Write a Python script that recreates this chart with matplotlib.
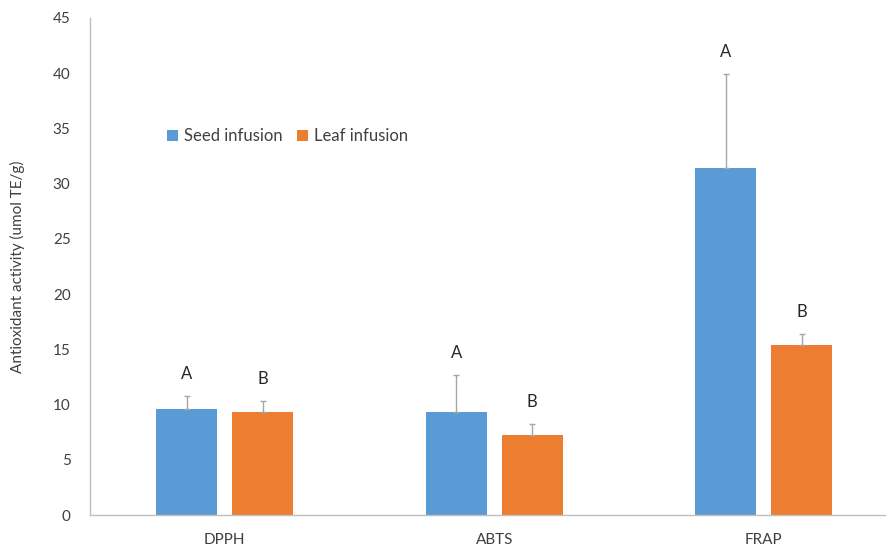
import matplotlib.pyplot as plt
import numpy as np

# antioxidant assays, mean values and upper standard deviation
assays = ["DPPH", "ABTS", "FRAP"]
seed = [9.6, 9.35, 31.4]
leaf = [9.35, 7.2, 15.4]
seed_sd = [1.2, 3.35, 8.5]
leaf_sd = [1.0, 1.05, 1.0]
seed_letters = ["A", "A", "A"]
leaf_letters = ["B", "B", "B"]
yticks = [0, 5, 10, 15, 20, 25, 30, 35, 40, 45]

plt.rcParams["font.family"] = ["Lato", "DejaVu Sans"]

blue = "#5B9BD5"
orange = "#ED7D31"
grey = "#BFBFBF"

fig = plt.figure(figsize=(8.86, 5.47), dpi=100)
ax = fig.add_axes([0.1016, 0.0585, 0.9125, 0.9086])

x = np.arange(len(assays))
w = 0.226
off = 0.141

err_kw = dict(ecolor="#A6A6A6", elinewidth=1.0, capsize=2.5, capthick=1.0)
ax.bar(x - off, seed, w, color=blue, label="Seed infusion",
       yerr=[np.zeros(3), seed_sd], error_kw=err_kw, zorder=2)
ax.bar(x + off, leaf, w, color=orange, label="Leaf infusion",
       yerr=[np.zeros(3), leaf_sd], error_kw=err_kw, zorder=2)

# significance letters above the error bars
for i in range(len(assays)):
    ax.annotate(seed_letters[i], (x[i] - off, seed[i] + seed_sd[i]),
                xytext=(0, 10), textcoords="offset points",
                ha="center", va="bottom", fontsize=12, color="#262626")
    ax.annotate(leaf_letters[i], (x[i] + off, leaf[i] + leaf_sd[i]),
                xytext=(0, 10), textcoords="offset points",
                ha="center", va="bottom", fontsize=12, color="#262626")

ax.set_xlim(-0.5, 2.5)
ax.set_ylim(0, 45)
ax.set_yticks(yticks)
ax.set_xticks(x)
ax.set_xticklabels(assays)
ax.tick_params(axis="both", length=0, labelsize=11, colors="#404040")
ax.tick_params(axis="y", pad=14)
ax.tick_params(axis="x", pad=13)

for s in ["top", "right"]:
    ax.spines[s].set_visible(False)
for s in ["left", "bottom"]:
    ax.spines[s].set_color(grey)
    ax.spines[s].set_linewidth(1.0)

ax.set_ylabel("Antioxidant activity (umol TE/g)", fontsize=11,
              color="#404040", labelpad=20)

ax.legend(loc="center left", bbox_to_anchor=(167 / 886, 1 - 136 / 547),
          bbox_transform=fig.transFigure, ncol=2, frameon=False,
          handlelength=0.65, handleheight=0.65, handletextpad=0.35,
          columnspacing=0.9, borderaxespad=0, borderpad=0,
          fontsize=12, labelcolor="#404040")

fig.savefig("out.png", dpi=100)
